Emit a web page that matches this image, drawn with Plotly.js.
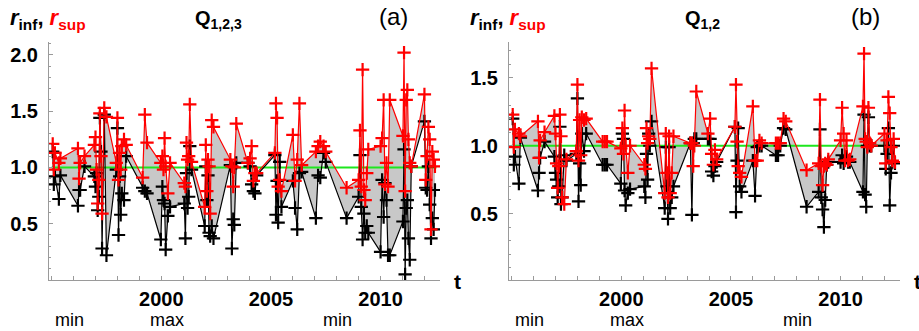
<!DOCTYPE html>
<html>
<head>
<meta charset="utf-8">
<script src="https://cdn.plot.ly/plotly-3.0.1.min.js"></script>
<style>html,body{margin:0;padding:0;background:#fff;}#chart{width:919px;height:331px;}</style>
</head>
<body>
<div id="chart"></div>
<script>
// time of each event (years) - shared by both panels
const t = [
  1995.05, 1995.1, 1995.15, 1995.33, 1995.4,
  1996.2, 1996.25, 1996.3, 1996.5,
  1996.95, 1997.0, 1997.05, 1997.1, 1997.15, 1997.2, 1997.25, 1997.3, 1997.4, 1997.5,
  1997.95, 1998.0, 1998.05, 1998.1, 1998.15, 1998.2, 1998.3, 1998.4,
  1999.15, 1999.25, 1999.35,
  1999.98, 2000.05, 2000.1, 2000.15, 2000.2, 2000.3, 2000.4,
  2001.05, 2001.1, 2001.15, 2001.2, 2001.25, 2001.3, 2001.38,
  2001.98, 2002.03, 2002.08, 2002.13, 2002.18, 2002.23, 2002.3, 2002.38,
  2003.15, 2003.22, 2003.28, 2003.33, 2003.42,
  2003.95, 2004.05, 2004.12, 2004.2, 2004.27, 2004.35,
  2005.18, 2005.23, 2005.28, 2005.33, 2005.4, 2005.48,
  2006.0, 2006.1, 2006.2, 2006.3, 2006.4,
  2007.05, 2007.15, 2007.25, 2007.4, 2007.5,
  2008.45,
  2009.0, 2009.06, 2009.12, 2009.18, 2009.24, 2009.3, 2009.37, 2009.44,
  2010.0, 2010.07, 2010.14, 2010.2, 2010.27, 2010.34, 2010.42,
  2011.02, 2011.07, 2011.12, 2011.17, 2011.22, 2011.27, 2011.33, 2011.4,
  2012.0, 2012.06, 2012.12, 2012.18, 2012.24, 2012.3, 2012.36, 2012.42, 2012.48
];

// panel (a): Q1,2,3
const infA = [
  1.14, 0.85, 0.92, 0.72, 0.93,
  0.66, 0.80, 0.80, 1.01,
  0.92, 0.83, 0.95, 0.62, 0.74, 1.44, 1.14, 0.28, 1.47, 0.22,
  0.98, 1.35, 0.40, 0.92, 0.58, 0.77, 0.71, 1.10,
  0.82, 0.79, 0.77,
  0.36, 0.83, 0.71, 0.68, 0.27, 0.57, 0.65,
  0.68, 0.37, 0.95, 0.64, 0.74, 1.19, 0.98,
  0.48, 1.01, 0.71, 0.93, 0.42, 0.39, 0.48, 0.37,
  1.02, 0.28, 0.54, 0.49, 1.04,
  1.04, 1.01, 0.85, 0.79, 0.77, 0.93,
  1.11, 0.58, 0.88, 0.51, 1.05, 0.65,
  0.88, 0.64, 0.45, 0.95, 0.96,
  0.55, 0.93, 0.91, 1.13, 1.05,
  0.55,
  0.74, 1.11, 0.65, 0.36, 0.59, 0.42, 0.48, 0.42,
  0.25, 0.89, 0.56, 0.86, 0.71, 0.22, 0.22,
  0.52, 1.16, 0.05, 0.64, 0.71, 0.37, 0.18, 1.01,
  1.41, 0.82, 0.80, 1.01, 0.67, 0.37, 0.55, 0.45, 0.80
];
const supA = [
  1.21, 0.98, 1.13, 1.04, 1.08,
  1.17, 0.90, 1.04, 1.10,
  1.20, 1.27, 0.98, 0.68, 0.89, 1.48, 1.10, 0.59, 1.53, 1.45,
  1.04, 1.44, 0.89, 1.13, 0.98, 1.19, 1.25, 1.20,
  0.91, 1.47, 1.22,
  1.04, 1.10, 0.98, 1.26, 1.01, 0.77, 1.04,
  0.86, 0.83, 1.22, 1.07, 1.10, 1.56, 1.05,
  0.65, 1.20, 0.79, 1.07, 1.01, 0.59, 1.42, 1.36,
  1.07, 1.01, 0.83, 1.00, 1.39,
  1.04, 1.08, 1.19, 0.88, 0.95, 0.95,
  1.13, 1.57, 1.44, 0.83, 0.89, 0.79,
  1.29, 0.88, 1.07, 1.57, 1.02,
  1.14, 1.19, 1.23, 1.19, 1.14,
  0.82,
  0.89, 1.33, 0.83, 1.87, 0.80, 0.71, 0.95, 1.16,
  1.19, 1.26, 1.60, 0.85, 1.04, 0.83, 1.60,
  1.28, 2.02, 0.79, 1.60, 1.69, 1.25, 1.04, 1.01,
  1.65, 0.89, 1.10, 1.36, 1.25, 0.45, 1.14, 1.07, 1.01
];

// panel (b): Q1,2
const infB = [
  1.20, 0.86, 0.92, 0.72, 1.06,
  0.67, 0.80, 0.91, 1.03,
  0.92, 0.80, 0.75, 0.62, 0.70, 1.14, 0.57, 0.62, 0.93, 0.89,
  0.94, 1.35, 0.59, 0.87, 0.71, 1.09, 0.96, 1.09,
  0.86, 0.86, 0.86,
  0.72, 1.09, 1.05, 0.67, 0.56, 0.65, 0.68,
  0.70, 0.62, 0.94, 0.75, 1.09, 1.00, 1.18,
  0.54, 0.99, 0.70, 0.46, 0.99, 0.54, 0.62, 0.70,
  1.02, 0.49, 1.02, 1.05, 1.05,
  1.05, 1.05, 0.81, 0.78, 0.85, 0.88,
  1.14, 0.51, 0.89, 1.13, 0.70, 0.66,
  0.89, 0.63, 0.99, 1.00, 1.00,
  0.93, 0.93, 1.00, 1.13, 1.12,
  0.55,
  0.66, 1.12, 0.62, 0.53, 0.40, 0.60, 0.86, 0.88,
  0.88, 0.93, 0.87, 0.90, 0.92, 0.88, 0.88,
  0.66, 1.23, 0.64, 0.55, 1.00, 1.21, 1.00, 1.00,
  1.00, 0.83, 0.94, 1.13, 0.56, 0.80, 0.88, 1.00, 0.87
];
const supB = [
  1.23, 0.99, 1.12, 1.09, 1.07,
  1.18, 0.91, 1.04, 1.10,
  1.22, 1.09, 0.87, 0.69, 0.85, 1.23, 1.07, 0.62, 0.57, 0.90,
  0.96, 1.45, 0.89, 1.19, 0.93, 1.21, 1.19, 1.20,
  1.03, 1.03, 1.03,
  0.98, 1.13, 0.94, 1.26, 1.00, 0.80, 1.00,
  0.86, 0.83, 1.13, 1.02, 1.07, 1.05, 1.57,
  0.65, 1.09, 0.80, 0.62, 1.07, 0.65, 0.80, 1.07,
  1.02, 1.02, 0.85, 1.00, 1.40,
  1.09, 1.20, 0.94, 0.86, 0.97, 0.90,
  1.14, 1.45, 1.03, 0.85, 0.80, 0.77,
  1.29, 0.89, 0.89, 1.04, 1.02,
  1.02, 1.02, 1.02, 1.20, 1.18,
  0.82,
  0.87, 1.34, 0.85, 0.71, 0.85, 0.87, 0.86, 0.90,
  1.04, 1.28, 1.09, 0.89, 1.04, 0.89, 0.90,
  1.29, 1.68, 1.05, 1.03, 0.99, 1.28, 1.02, 1.00,
  1.09, 0.87, 1.04, 1.36, 1.24, 0.99, 0.89, 1.05, 0.88
];

// reference level r = 1
const refX = [1995.0, 2012.55];
const refY = [1, 1];

// x tick values and cycle labels
const xTicks = [2000, 2005, 2010];
const yTicks = [0.5, 1.0, 1.5, 2.0];
const cycleLabels = ['min', 'max', 'min'];
const cycleX = [1995.8, 2000.26, 2008.04];

const FONT = 'Liberation Sans, Arial, sans-serif';
const GRAY = '#c8c8c8';

function panelTraces(inf, sup, xa, ya) {
  const mk = (c) => ({symbol: 'cross-thin-open', size: 9.5, color: c, line: {color: c, width: 2.2}});
  return [
    // fill region between the two curves (drawn first, below everything)
    {x: t, y: inf, xaxis: xa, yaxis: ya, mode: 'lines', line: {width: 0, color: 'rgba(0,0,0,0)'}, hoverinfo: 'skip', showlegend: false},
    {x: t, y: sup, xaxis: xa, yaxis: ya, mode: 'lines', fill: 'tonexty', fillcolor: GRAY, line: {width: 0, color: 'rgba(0,0,0,0)'}, hoverinfo: 'skip', showlegend: false},
    // reference line
    {x: refX, y: refY, xaxis: xa, yaxis: ya, mode: 'lines', line: {color: '#1ee61e', width: 2}, showlegend: false},
    // r_inf
    {x: t, y: inf, xaxis: xa, yaxis: ya, mode: 'lines+markers', line: {color: 'black', width: 1.2}, marker: mk('black'), showlegend: false},
    // r_sup
    {x: t, y: sup, xaxis: xa, yaxis: ya, mode: 'lines+markers', line: {color: '#ff0000', width: 1.2}, marker: mk('#ff0000'), showlegend: false}
  ];
}

const data = [].concat(
  panelTraces(infA, supA, 'x', 'y'),
  panelTraces(infB, supB, 'x2', 'y2')
);

function xAxis(domain, anchor) {
  return {
    domain: domain, anchor: anchor, range: [1994.88, 2012.71],
    showline: true, linecolor: '#9a9a9a', linewidth: 1,
    showgrid: false, zeroline: false,
    tickmode: 'array', tickvals: xTicks, ticktext: xTicks.map(String),
    ticks: 'inside', ticklen: 4, tickcolor: '#9a9a9a', tickwidth: 1,
    minor: {tickmode: 'linear', tick0: 1995, dtick: 1, ticks: 'inside', ticklen: 4, tickcolor: '#9a9a9a', tickwidth: 1, showgrid: false},
    tickfont: {family: FONT, size: 20, color: 'black', weight: 'bold'},
    ticklabelstandoff: 1
  };
}
function yAxis(range, anchor) {
  return {
    anchor: anchor, range: range,
    showline: true, linecolor: '#9a9a9a', linewidth: 1,
    showgrid: false, zeroline: false,
    tickmode: 'array', tickvals: yTicks, ticktext: yTicks.map(v => v.toFixed(1)),
    ticks: 'inside', ticklen: 4, tickcolor: '#9a9a9a', tickwidth: 1,
    minor: {tickmode: 'linear', tick0: 0, dtick: 0.1, ticks: 'inside', ticklen: 2, tickcolor: '#9a9a9a', tickwidth: 1, showgrid: false},
    tickfont: {family: FONT, size: 20, color: 'black', weight: 'bold'},
    ticklabelstandoff: 6
  };
}

const L = 49, R = 19, T = 42, B = 51, W = 919, H = 331;
const PW = W - L - R, PH = H - T - B;
const px = (p) => (p - L) / PW;          // pixel x -> paper x
const py = (p) => 1 - (p - T) / PH;      // pixel y -> paper y

const annotations = [];
function addPanelText(offset, q, tag, xref) {
  annotations.push({xref: 'paper', yref: 'paper', x: px(8 + offset), y: py(19), xanchor: 'left', yanchor: 'middle', showarrow: false,
    text: '<b><i>r</i><sub>inf</sub>, <span style="color:#ff0000"><i>r</i><sub>sup</sub></span></b>',
    font: {family: FONT, size: 22, color: 'black'}});
  annotations.push({xref: 'paper', yref: 'paper', x: px(q.x + offset), y: py(20), xanchor: 'center', yanchor: 'middle', showarrow: false,
    text: '<b>' + q.text + '</b>', font: {family: FONT, size: 20, color: 'black'}});
  annotations.push({xref: 'paper', yref: 'paper', x: px(tag.x + offset), y: py(17), xanchor: 'center', yanchor: 'middle', showarrow: false,
    text: tag.text, font: {family: FONT, size: 24, color: 'black'}});
  annotations.push({xref: 'paper', yref: 'paper', x: px(457 + offset), y: py(281), xanchor: 'center', yanchor: 'middle', showarrow: false,
    text: '<b>t</b>', font: {family: FONT, size: 21, color: 'black'}});
  for (let i = 0; i < cycleLabels.length; i++) {
    annotations.push({xref: xref, yref: 'paper', x: cycleX[i], y: py(320), xanchor: 'center', yanchor: 'middle', showarrow: false,
      text: cycleLabels[i], font: {family: FONT, size: 18, color: 'black'}});
  }
}
addPanelText(0, {x: 218, text: 'Q<sub>1,2,3</sub>'}, {x: 393, text: '(a)'}, 'x');
addPanelText(460, {x: 242, text: 'Q<sub>1,2</sub>'}, {x: 405, text: '(b)'}, 'x2');

const split1 = (440 - L) / PW, split2 = (509 - L) / PW;

const layout = {
  width: W, height: H,
  margin: {l: L, r: R, t: T, b: B, pad: 0},
  paper_bgcolor: 'white', plot_bgcolor: 'white',
  showlegend: false,
  xaxis: xAxis([0, split1], 'y'),
  yaxis: yAxis([0.0, 2.115], 'x'),
  xaxis2: xAxis([split2, 1], 'y2'),
  yaxis2: yAxis([0.01, 1.765], 'x2'),
  annotations: annotations
};

Plotly.newPlot('chart', data, layout, {displayModeBar: false, staticPlot: true});
</script>
</body>
</html>
